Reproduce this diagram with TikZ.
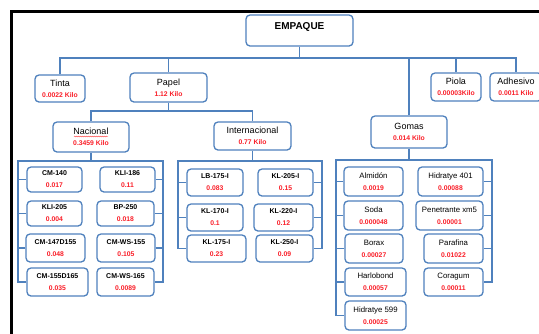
\documentclass[tikz,border=0pt]{standalone}
\usepackage{fontspec}
\setmainfont{Liberation Sans}
\usetikzlibrary{calc,decorations.pathmorphing}
\definecolor{boxblue}{RGB}{79,129,189}
\definecolor{valred}{RGB}{250,30,40}
\newcommand{\tit}[1]{{\fontsize{9}{10}\selectfont #1}}
\newcommand{\sub}[1]{{\fontsize{7}{8}\selectfont\bfseries #1}}
\newcommand{\subr}[1]{{\fontsize{7.8}{8}\selectfont #1}}
\newcommand{\val}[1]{{\fontsize{6.8}{8}\selectfont\bfseries\color{valred}#1}}
\tikzset{
  box/.style={draw=boxblue, line width=1.3pt, rounded corners=4pt, fill=white, align=center, inner sep=0pt},
  conn/.style={draw=boxblue, line width=1.3pt},
  frame/.style={draw=black, line width=3.5pt}
}
\begin{document}
\begin{tikzpicture}[x=1pt,y=-1pt]
\useasboundingbox (0,0) rectangle (539,333);
\fill[white] (0,0) rectangle (539,333);
% frame
\coordinate (fTL) at (11.5,11.5);
\coordinate (fTR) at (545,11.5);
\coordinate (fBL) at (11.5,340);
\draw[frame] (fTR) -- (fTL) -- (fBL);

% top level
\node[box, minimum width=107pt, minimum height=31pt] (emp) at (299.5,30.5) {};
\node[font=\fontsize{10}{11}\selectfont\bfseries] (empt) at (299.5,26.5) {EMPAQUE};
\node[box, minimum width=50pt, minimum height=27pt] (tinta) at (60,88.5) {\tit{Tinta}\\[-1pt]\val{0.0022 Kilo}};
\node[box, minimum width=77pt, minimum height=29pt] (papel) at (168.5,87.5) {\tit{Papel}\\[-1pt]\val{1.12 Kilo}};
\node[box, minimum width=76pt, minimum height=32pt] (gomas) at (409,132) {\tit{Gomas}\\[-1pt]\val{0.014 Kilo}};
\node[box, minimum width=50pt, minimum height=28pt] (piola) at (456,87) {\tit{Piola}\\[-1pt]\val{0.00003Kilo}};
\node[box, minimum width=52pt, minimum height=28pt] (adh) at (516,87) {\tit{Adhesivo}\\[-1pt]\val{0.0011 Kilo}};

\coordinate (busE) at (299.5,58);
\draw[conn] (emp.south) -- (busE);
\draw[conn] (tinta.north) -- (tinta.north |- busE) -- (adh.north |- busE) -- (adh.north);
\draw[conn] (papel.north) -- (papel.north |- busE);
\draw[conn] (gomas.north) -- (gomas.north |- busE);
\draw[conn] (piola.north) -- (piola.north |- busE);

% papel children
\node[box, minimum width=76pt, minimum height=30pt] (nac) at (91,137) {\tit{Nacional}\\[-1pt]\val{0.3459 Kilo}};
\node[box, minimum width=77pt, minimum height=28pt] (int) at (252.5,136) {\tit{Internacional}\\[-1pt]\val{0.77 Kilo}};
\draw[red!80, line width=0.4pt, decorate, decoration={snake, amplitude=0.45pt, segment length=2pt}]
  ($(nac.center)+(-17,-0.5)$) -- ($(nac.center)+(17,-0.5)$);
\coordinate (busP) at (168.5,111);
\draw[conn] (papel.south) -- (busP);
\draw[conn] (nac.north) -- (nac.north |- busP) -- (int.north |- busP) -- (int.north);

% nacional children
\node[box, minimum width=55pt, minimum height=25pt] (cm140) at (54.5,179.5) {\sub{CM-140}\\\val{0.017}};
\node[box, minimum width=55pt, minimum height=25pt] (kli186) at (127.5,179.5) {\sub{KLI-186}\\\val{0.11}};
\node[box, minimum width=55pt, minimum height=25pt] (kli205) at (54.5,213.5) {\sub{KLI-205}\\\val{0.004}};
\node[box, minimum width=57pt, minimum height=25pt] (bp250) at (125.5,213.5) {\sub{BP-250}\\\val{0.018}};
\node[box, minimum width=59pt, minimum height=28pt] (cm147) at (55.5,248) {\sub{CM-147D155}\\\val{0.048}};
\node[box, minimum width=58pt, minimum height=28pt] (cmws155) at (126,248) {\sub{CM-WS-155}\\\val{0.105}};
\node[box, minimum width=61pt, minimum height=28pt] (cm155) at (57.5,282) {\sub{CM-155D165}\\\val{0.035}};
\node[box, minimum width=57pt, minimum height=28pt] (cmws165) at (125.5,282) {\sub{CM-WS-165}\\\val{0.0089}};
\coordinate (nL) at (18,161);
\coordinate (nR) at (163,161);
\draw[conn] (nac.south) -- (nac.south |- nL);
\draw[conn] (cm155.west) -| (nL) -- (nR) |- (cmws165.east);
\draw[conn] (cm140.west) -- (cm140.west -| nL);
\draw[conn] (kli205.west) -- (kli205.west -| nL);
\draw[conn] (cm147.west) -- (cm147.west -| nL);
\draw[conn] (kli186.east) -- (kli186.east -| nR);
\draw[conn] (bp250.east) -- (bp250.east -| nR);
\draw[conn] (cmws155.east) -- (cmws155.east -| nR);

% internacional children
\node[box, minimum width=56pt, minimum height=27pt] (lb175) at (215,182.5) {\sub{LB-175-I}\\\val{0.083}};
\node[box, minimum width=55pt, minimum height=27pt] (kl205) at (285.5,182.5) {\sub{KL-205-I}\\\val{0.15}};
\node[box, minimum width=56pt, minimum height=27pt] (kl170) at (215,217.5) {\sub{KL-170-I}\\\val{0.1}};
\node[box, minimum width=59pt, minimum height=27pt] (kl220) at (283.5,217.5) {\sub{KL-220-I}\\\val{0.12}};
\node[box, minimum width=59pt, minimum height=27pt] (kl175) at (216.5,248.5) {\sub{KL-175-I}\\\val{0.23}};
\node[box, minimum width=57pt, minimum height=27pt] (kl250) at (284.5,248.5) {\sub{KL-250-I}\\\val{0.09}};
\coordinate (iL) at (178,161);
\coordinate (iR) at (322,161);
\draw[conn] (int.south) -- (int.south |- iL);
\draw[conn] (kl175.west) -| (iL) -- (iR) |- (kl250.east);
\draw[conn] (lb175.west) -- (lb175.west -| iL);
\draw[conn] (kl170.west) -- (kl170.west -| iL);
\draw[conn] (kl205.east) -- (kl205.east -| iR);
\draw[conn] (kl220.east) -- (kl220.east -| iR);

% gomas children
\node[box, minimum width=59pt, minimum height=29pt] (alm) at (373.5,181.5) {\subr{Almidón}\\\val{0.0019}};
\node[box, minimum width=65pt, minimum height=29pt] (hid401) at (450.5,181.5) {\subr{Hidratye 401}\\\val{0.00088}};
\node[box, minimum width=59pt, minimum height=29pt] (soda) at (373.5,215.5) {\subr{Soda}\\\val{0.000048}};
\node[box, minimum width=67pt, minimum height=29pt] (pen) at (449.5,215.5) {\subr{Penetrante xm5}\\\val{0.00001}};
\node[box, minimum width=58pt, minimum height=29pt] (borax) at (374,248.5) {\subr{Borax}\\\val{0.00027}};
\node[box, minimum width=59pt, minimum height=29pt] (paraf) at (453.5,248.5) {\subr{Parafina}\\\val{0.01022}};
\node[box, minimum width=61pt, minimum height=28pt] (harlo) at (375.5,282) {\subr{Harlobond}\\\val{0.00057}};
\node[box, minimum width=59pt, minimum height=28pt] (cora) at (453.5,282) {\subr{Coragum}\\\val{0.00011}};
\node[box, minimum width=61pt, minimum height=29pt] (hid599) at (375.5,315.5) {\subr{Hidratye 599}\\\val{0.00025}};
\coordinate (gL) at (336,160);
\coordinate (gR) at (492,160);
\draw[conn] (gomas.south) -- (gomas.south |- gL);
\draw[conn] (hid599.west) -| (gL) -- (gR) |- (cora.east);
\draw[conn] (alm.west) -- (alm.west -| gL);
\draw[conn] (soda.west) -- (soda.west -| gL);
\draw[conn] (borax.west) -- (borax.west -| gL);
\draw[conn] (harlo.west) -- (harlo.west -| gL);
\draw[conn] (hid401.east) -- (hid401.east -| gR);
\draw[conn] (pen.east) -- (pen.east -| gR);
\draw[conn] (paraf.east) -- (paraf.east -| gR);
\end{tikzpicture}
\end{document}
